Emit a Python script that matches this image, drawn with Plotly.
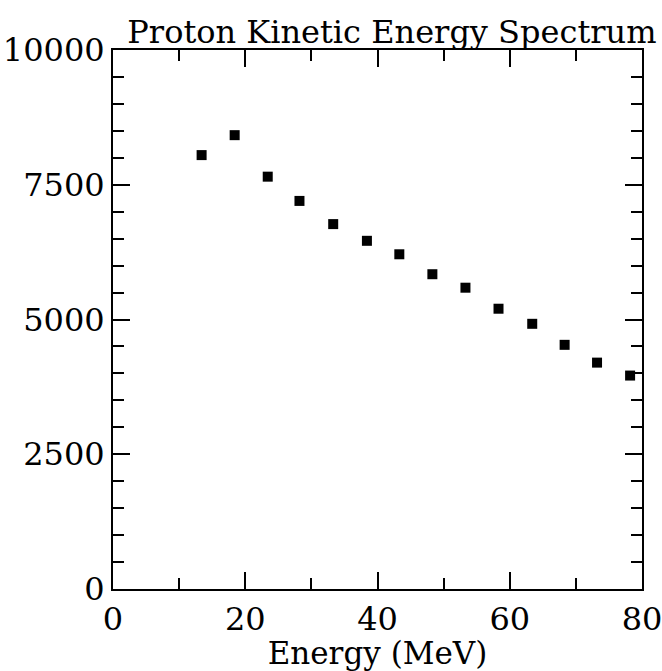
import plotly.graph_objects as go

# Data
energy_mev = [13.4, 18.4, 23.4, 28.2, 33.3, 38.4, 43.3, 48.3, 53.3, 58.3, 63.4, 68.3, 73.2, 78.2]
counts = [8050, 8420, 7650, 7200, 6770, 6460, 6210, 5840, 5590, 5200, 4920, 4530, 4200, 3960]

x_tickvals = [0, 20, 40, 60, 80]
x_ticktext = ["0", "20", "40", "60", "80"]
y_tickvals = [0, 2500, 5000, 7500, 10000]
y_ticktext = ["0", "2500", "5000", "7500", "10000"]

FONT = "DejaVu Serif"
SIZE = 32

fig = go.Figure()
fig.add_trace(go.Scatter(
    x=energy_mev, y=counts, mode="markers",
    marker=dict(symbol="square", size=10, color="black"),
    showlegend=False, cliponaxis=False,
))

axis_common = dict(
    showline=True, linecolor="black", linewidth=2, mirror="ticks",
    ticks="inside", tickcolor="black", tickwidth=2,
    showgrid=False, zeroline=False, automargin=False,
    ticklabeloverflow="allow",
    tickfont=dict(family=FONT, size=SIZE, color="black"),
)

fig.update_xaxes(
    range=[0, 80], tickvals=x_tickvals, ticktext=x_ticktext, ticklen=17,
    minor=dict(dtick=10, tick0=0, ticks="inside", ticklen=11, tickwidth=2, tickcolor="black", showgrid=False),
    title=dict(text="Energy (MeV)", font=dict(family=FONT, size=31, color="black"), standoff=8),
    ticklabelstandoff=1,
    **axis_common,
)
fig.update_yaxes(
    range=[0, 10000], tickvals=y_tickvals, ticktext=y_ticktext, ticklen=17,
    minor=dict(dtick=500, tick0=0, ticks="inside", ticklen=11, tickwidth=2, tickcolor="black", showgrid=False),
    ticklabelstandoff=0,
    **axis_common,
)

fig.update_layout(
    width=662, height=671,
    margin=dict(l=113, r=20, t=50, b=82, autoexpand=False),
    paper_bgcolor="white", plot_bgcolor="white",
    title=dict(text="Proton Kinetic Energy Spectrum", x=0.592, xanchor="center",
               y=0.952, yanchor="middle",
               font=dict(family=FONT, size=SIZE, color="black")),
)

fig.write_html("out.html")
